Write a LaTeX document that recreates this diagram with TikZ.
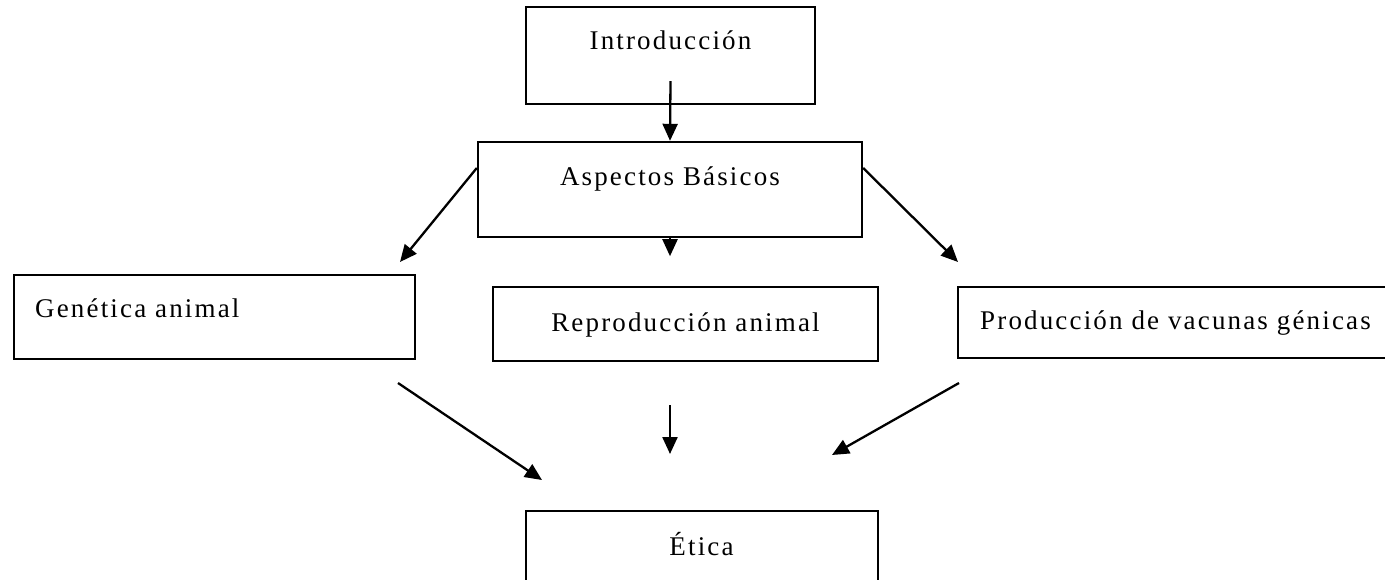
\documentclass[tikz,border=0pt]{standalone}
\usepackage{fontspec}
\setmainfont{Liberation Serif}[LetterSpace=8]
\usetikzlibrary{arrows.meta}
\begin{document}
\begin{tikzpicture}[x=1pt,y=-1pt,
  box/.style={draw, line width=2.4pt, inner sep=0pt, rectangle},
  lbl/.style={inner sep=0pt, font=\fontsize{27}{31}\selectfont},
  arr/.style={line width=2.3pt, -{Triangle[length=17pt,width=15pt]}}]
\useasboundingbox (0,0) rectangle (1385,580);
% boxes
\node[box, minimum width=289pt, minimum height=97pt] (intro) at (670.5,55.5) {};
\node[box, minimum width=384pt, minimum height=95pt] (asp) at (670,189.5) {};
\node[box, minimum width=401pt, minimum height=84pt] (gen) at (214.5,317) {};
\node[box, minimum width=385pt, minimum height=74pt] (rep) at (685.5,324) {};
\node[box, minimum width=432pt, minimum height=71pt] (prod) at (1174,322.5) {};
\node[box, minimum width=352pt, minimum height=79pt] (etica) at (702,550.5) {};
% texts
\node[lbl, anchor=base] (introT) at (670.5,50) {Introducción};
\node[lbl, anchor=base] (aspT) at (670,186) {Aspectos Básicos};
\node[lbl, anchor=base west] (genT) at (35,317) {Genética animal};
\node[lbl, anchor=base] (repT) at (685.5,331) {Reproducción animal};
\node[lbl, anchor=base west] (prodT) at (980,330) {Producción de vacunas génicas};
\node[lbl, anchor=base] (eticaT) at (701.5,555) {Ética};
% free ends
\coordinate (c1) at (400,262);
\coordinate (c2) at (958,262);
\coordinate (s5) at (398,383);
\coordinate (t5) at (542,480);
\coordinate (s6) at (670,405);
\coordinate (t6) at (670,454);
\coordinate (s7) at (959,383);
\coordinate (t7) at (832,455);
% connectors
\draw[arr] ([yshift=24pt]intro.south) -- (asp.north);
\draw[arr] (asp.south) -- ([yshift=-18pt]asp.south);
\draw[arr] ([yshift=21.5pt]asp.west) -- (c1);
\draw[arr] ([yshift=21.5pt]asp.east) -- (c2);
\draw[arr] (s5) -- (t5);
\draw[arr] (s6) -- (t6);
\draw[arr] (s7) -- (t7);
\end{tikzpicture}
\end{document}
